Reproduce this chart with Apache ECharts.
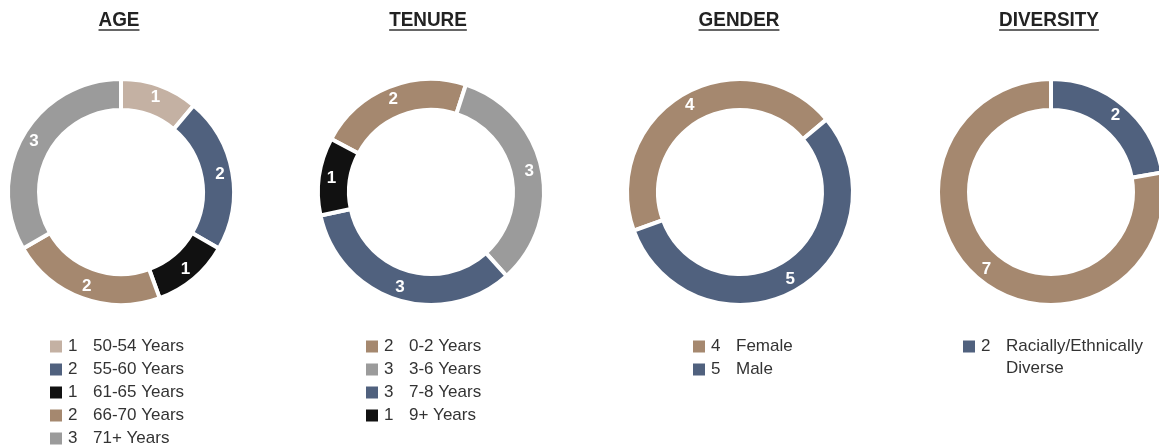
<!DOCTYPE html>
<html>
<head>
<meta charset="utf-8">
<script src="https://cdn.jsdelivr.net/npm/echarts@6/dist/echarts.min.js"></script>
<style>
    html, body { margin: 0; padding: 0; background: #fff; }
    #main { width: 1159px; height: 448px; }
</style>
</head>
<body>
<div id="main"></div>
<script>
// data
var ageNames = ['50-54 Years', '55-60 Years', '61-65 Years', '66-70 Years', '71+ Years']
var ageValues = [1, 2, 1, 2, 3]
var tenureNames = ['0-2 Years', '3-6 Years', '7-8 Years', '9+ Years']
var tenureValues = [2, 3, 3, 1]
var genderNames = ['Female', 'Male']
var genderValues = [4, 5]
var diversityNames = ['Racially/Ethnically Diverse', 'Not Diverse']
var diversityValues = [2, 7]
var titles = ['AGE', 'TENURE', 'GENDER', 'DIVERSITY']

var TAN = '#c4b1a3', BLUE = '#50617e', BLACK = '#111111', BROWN = '#a5886f', GRAY = '#9b9b9b'
var ageColors = [TAN, BLUE, BLACK, BROWN, GRAY]
var tenureColors = [BROWN, GRAY, BLUE, BLACK]
var genderColors = [BROWN, BLUE]
var diversityColors = [BLUE, BROWN]

var centersX = [121, 431, 740, 1051]
var centerY = 192
var legendX = [48, 364, 691, 961]
var titleX = [119, 428, 739, 1049]
var titleFont = 'bold 21px "Liberation Sans", Arial, sans-serif'
var titleScale = 0.9

var toData = function (names, values, colors) {
    return names.map(function (n, i) {
        return { name: n, value: values[i], itemStyle: { color: colors[i] } }
    })
}

var pies = [
    { names: ageNames, values: ageValues, colors: ageColors, start: 90, legend: ageNames },
    { names: tenureNames, values: tenureValues, colors: tenureColors, start: 152, legend: tenureNames },
    { names: genderNames, values: genderValues, colors: genderColors, start: 200, legend: genderNames },
    { names: diversityNames, values: diversityValues, colors: diversityColors, start: 90, legend: [diversityNames[0]] }
]

var valueOf = {}
pies.forEach(function (p) {
    p.names.forEach(function (n, i) { valueOf[n] = p.values[i] })
})

// measure title width for the underline
var ctx = document.createElement('canvas').getContext('2d')
ctx.font = titleFont

var graphics = []
titles.forEach(function (t, i) {
    var w = ctx.measureText(t).width * titleScale
    graphics.push({
        type: 'text',
        x: titleX[i],
        y: 20,
        scaleX: titleScale,
        style: {
            text: t,
            font: titleFont,
            fill: '#222',
            textAlign: 'center',
            textVerticalAlign: 'middle'
        }
    })
    graphics.push({
        type: 'line',
        shape: { x1: titleX[i] - w / 2, y1: 30, x2: titleX[i] + w / 2, y2: 30 },
        style: { stroke: '#333', lineWidth: 1.5 }
    })
})

var legendFont = '"Liberation Sans", Arial, sans-serif'
var legends = pies.map(function (p, i) {
    return {
        data: p.legend,
        orient: 'vertical',
        left: legendX[i],
        top: 338,
        height: 140,
        padding: 0,
        itemWidth: 14,
        itemHeight: 14,
        itemGap: 6,
        icon: 'rect',
        textStyle: {
            color: '#333',
            fontSize: 17,
            fontFamily: legendFont,
            padding: i === 3 ? [22, 0, 0, 0] : 0,
            rich: {
                n: { width: 25, fontSize: 17, lineHeight: 22, fontFamily: legendFont, color: '#333' },
                t: { fontSize: 17, lineHeight: 22, fontFamily: legendFont, color: '#333' }
            }
        },
        formatter: function (name) {
            if (name === 'Racially/Ethnically Diverse') {
                return '{n|' + valueOf[name] + '}{t|Racially/Ethnically}\n{n| }{t|Diverse}'
            }
            return '{n|' + valueOf[name] + '}{t|' + name + '}'
        }
    }
})

var series = pies.map(function (p, i) {
    return {
        type: 'pie',
        center: [centersX[i], centerY],
        radius: [82, 113],
        startAngle: p.start,
        clockwise: true,
        avoidLabelOverlap: false,
        legendHoverLink: false,
        itemStyle: { borderColor: '#fff', borderWidth: 4 },
        label: {
            show: true,
            position: 'inside',
            formatter: '{c}',
            color: '#fff',
            fontSize: 17,
            fontWeight: 'bold',
            fontFamily: legendFont
        },
        labelLine: { show: false },
        data: toData(p.names, p.values, p.colors)
    }
})

var myChart = echarts.init(document.getElementById('main'))
myChart.setOption({
    animation: false,
    legend: legends,
    graphic: graphics,
    series: series
})
</script>
</body>
</html>
